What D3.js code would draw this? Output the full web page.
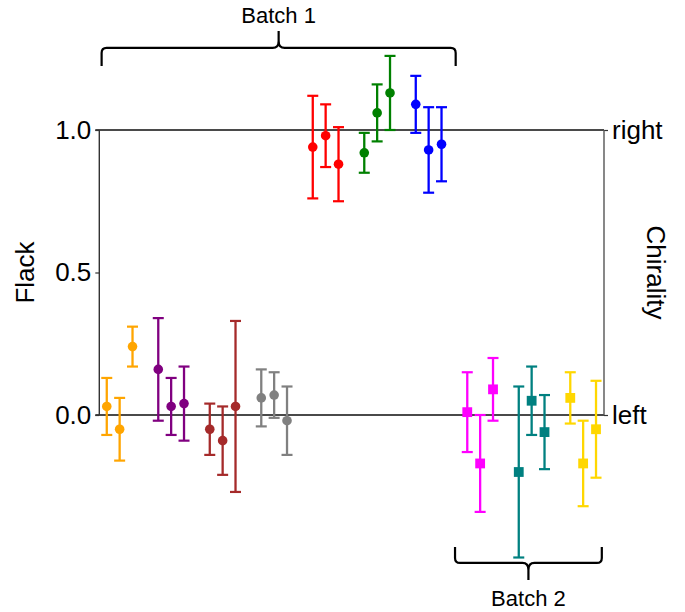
<!DOCTYPE html>
<html>
<head>
<meta charset="utf-8">
<script src="https://cdn.jsdelivr.net/npm/d3@7"></script>
<style>
  html, body { margin: 0; padding: 0; background: #fff; }
  svg { display: block; font-family: "Liberation Sans", Arial, sans-serif; }
</style>
</head>
<body>
<svg id="chart" width="685" height="612"></svg>
<script>
// ---------- data ----------
const groupColors = ["orange", "purple", "brown", "gray", "red", "green", "blue", "magenta", "teal", "gold"];
const groupMarkers = ["circle", "circle", "circle", "circle", "circle", "circle", "circle", "square", "square", "square"];
const flackValues = [
  [0.03, -0.05, 0.24],
  [0.16, 0.03, 0.04],
  [-0.05, -0.09, 0.03],
  [0.06, 0.07, -0.02],
  [0.94, 0.98, 0.88],
  [0.92, 1.06, 1.13],
  [1.09, 0.93, 0.95],
  [0.01, -0.17, 0.09],
  [-0.20, 0.05, -0.06],
  [0.06, -0.17, -0.05]
];
const flackErrors = [
  [0.10, 0.11, 0.07],
  [0.18, 0.10, 0.13],
  [0.09, 0.12, 0.30],
  [0.10, 0.08, 0.12],
  [0.18, 0.11, 0.13],
  [0.07, 0.10, 0.13],
  [0.10, 0.15, 0.13],
  [0.14, 0.17, 0.11],
  [0.30, 0.12, 0.13],
  [0.09, 0.15, 0.17]
];
const leftTicks = [0.0, 0.5, 1.0];
const rightTicks = [0.0, 1.0];
const rightTickLabels = ["left", "right"];
const batchLabels = ["Batch 1", "Batch 2"];
const batchStart = [-0.4, 27.05];
const batchEnd = [27.1, 38.45];
const batchLevel = [1.288, -0.519];

// ---------- layout ----------
const svg = d3.select("#chart");
const x = d3.scaleLinear().domain([-0.58, 38.62]).range([99.3, 604]);
const y = d3.scaleLinear().domain([0, 1]).range([415, 130]);
const FONT = 26;

const points = [];
flackValues.forEach((vals, g) => {
  vals.forEach((v, j) => {
    points.push({ pos: g * 4 + j, v, e: flackErrors[g][j], color: groupColors[g], marker: groupMarkers[g] });
  });
});

// horizontal reference lines at 0 and 1
svg.append("g").selectAll("line").data(rightTicks).join("line")
  .attr("x1", x(-0.58) - 4).attr("x2", x(38.62))
  .attr("y1", d => y(d)).attr("y2", d => y(d))
  .attr("stroke", "#4a4a4a").attr("stroke-width", 1.8);

// left axis
const gl = svg.append("g").attr("transform", `translate(${x(-0.58)},0)`)
  .call(d3.axisLeft(y).tickValues(leftTicks).tickFormat(d3.format(".1f")).tickSize(4).tickPadding(4));
gl.select(".domain").remove();
gl.selectAll(".tick line").attr("stroke", "#333").attr("stroke-width", 1.2);
gl.selectAll(".tick text").attr("font-size", FONT).attr("fill", "#000").attr("font-family", "Liberation Sans, Arial, sans-serif");
gl.append("line").attr("x1", 0).attr("x2", 0).attr("y1", y(0)).attr("y2", y(1))
  .attr("stroke", "#333").attr("stroke-width", 1.4);

// right axis
const gr = svg.append("g").attr("transform", `translate(${x(38.62)},0)`)
  .call(d3.axisRight(y).tickValues(rightTicks).tickFormat((d, i) => rightTickLabels[i]).tickSize(4).tickPadding(4));
gr.select(".domain").remove();
gr.selectAll(".tick line").attr("stroke", "#333").attr("stroke-width", 1.2);
gr.selectAll(".tick text").attr("font-size", FONT).attr("fill", "#000").attr("font-family", "Liberation Sans, Arial, sans-serif");
gr.append("line").attr("x1", 0).attr("x2", 0).attr("y1", y(0)).attr("y2", y(1))
  .attr("stroke", "#555").attr("stroke-width", 1.4);

// axis labels
svg.append("text").text("Flack")
  .attr("transform", `translate(34,${(y(0) + y(1)) / 2}) rotate(-90)`)
  .attr("text-anchor", "middle").attr("font-size", FONT).attr("fill", "#000");
svg.append("text").text("Chirality")
  .attr("transform", `translate(647,${(y(0) + y(1)) / 2}) rotate(90)`)
  .attr("text-anchor", "middle").attr("font-size", FONT).attr("fill", "#000");

// error bars
const eb = svg.append("g").selectAll("g").data(points).join("g");
eb.append("line")
  .attr("x1", d => x(d.pos)).attr("x2", d => x(d.pos))
  .attr("y1", d => y(d.v - d.e)).attr("y2", d => y(d.v + d.e))
  .attr("stroke", d => d.color).attr("stroke-width", 2.3);
[-1, 1].forEach(s => {
  eb.append("line")
    .attr("x1", d => x(d.pos) - 5.5).attr("x2", d => x(d.pos) + 5.5)
    .attr("y1", d => y(d.v + s * d.e)).attr("y2", d => y(d.v + s * d.e))
    .attr("stroke", d => d.color).attr("stroke-width", 2.2);
});
eb.filter(d => d.marker === "circle").append("circle")
  .attr("cx", d => x(d.pos)).attr("cy", d => y(d.v)).attr("r", 4.8)
  .attr("fill", d => d.color);
eb.filter(d => d.marker === "square").append("rect")
  .attr("x", d => x(d.pos) - 4.9).attr("y", d => y(d.v) - 4.9)
  .attr("width", 9.8).attr("height", 9.8)
  .attr("fill", d => d.color);

// braces
function bracePath(x0, x1, yb, dir) {
  // dir = -1: cusp points up (top brace); dir = 1: cusp points down
  const xc = (x0 + x1) / 2;
  const r = 5;
  const up = dir < 0;
  return [
    `M${x0},${yb + (up ? 18 : -16)}`,
    `L${x0},${yb + (up ? r : -r)}`,
    `Q${x0},${yb} ${x0 + r},${yb}`,
    `L${xc - 6},${yb}`,
    `Q${xc},${yb} ${xc},${yb + (up ? -7 : 7)}`,
    `L${xc},${yb + (up ? -17 : 17)}`,
    `M${xc},${yb + (up ? -7 : 7)}`,
    `Q${xc},${yb} ${xc + 6},${yb}`,
    `L${x1 - r},${yb}`,
    `Q${x1},${yb} ${x1},${yb + (up ? r : -r)}`,
    `L${x1},${yb + (up ? 18 : -16)}`
  ].join(" ");
}
batchLabels.forEach((lab, i) => {
  const dir = i === 0 ? -1 : 1;
  const x0 = x(batchStart[i]), x1 = x(batchEnd[i]), yb = y(batchLevel[i]);
  svg.append("path").attr("d", bracePath(x0, x1, yb, dir))
    .attr("fill", "none").attr("stroke", "#000").attr("stroke-width", 2.2);
  svg.append("text").text(lab)
    .attr("x", (x0 + x1) / 2)
    .attr("y", i === 0 ? yb - 25 : yb + 43)
    .attr("text-anchor", "middle").attr("font-size", 22).attr("fill", "#000");
});
</script>
</body>
</html>
